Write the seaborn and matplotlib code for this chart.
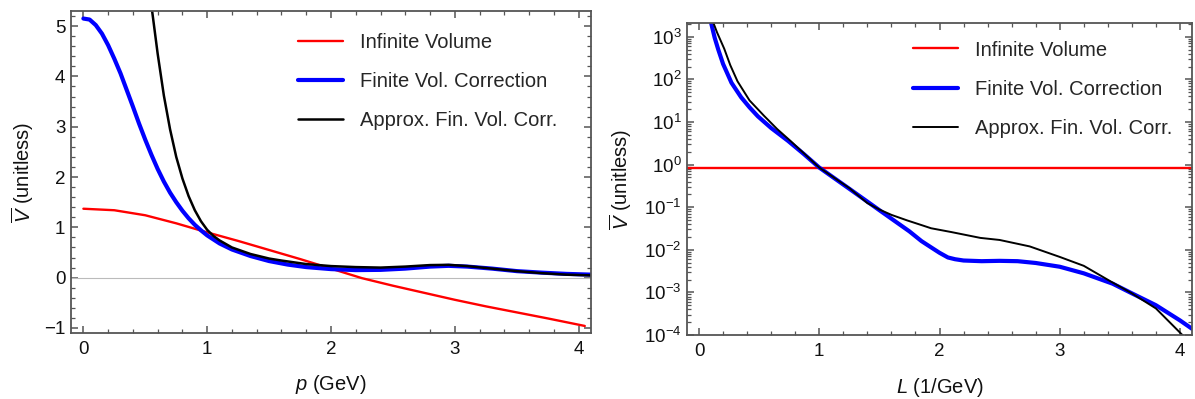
import numpy as np
import pandas as pd
import matplotlib
matplotlib.use("Agg")
import matplotlib.pyplot as plt
from matplotlib.ticker import MultipleLocator, LogLocator, NullFormatter
import seaborn as sns

# ---------------- data ----------------
# Left panel: V vs p (GeV)
p_inf = [0.00, 0.25, 0.50, 0.75, 1.00, 1.25, 1.50, 1.75, 2.00, 2.25, 2.50, 2.75,
         3.00, 3.25, 3.50, 3.75, 4.05]
v_inf = [1.37, 1.34, 1.24, 1.08, 0.90, 0.73, 0.55, 0.37, 0.18, -0.01, -0.16, -0.30,
         -0.44, -0.57, -0.69, -0.81, -0.96]

p_fin = [0.00, 0.05, 0.10, 0.15, 0.20, 0.25, 0.30, 0.35, 0.40, 0.45, 0.50, 0.55,
         0.60, 0.65, 0.70, 0.75, 0.80, 0.85, 0.90, 0.95, 1.00, 1.10, 1.20, 1.35,
         1.50, 1.65, 1.80, 2.00, 2.20, 2.40, 2.60, 2.80, 2.95, 3.10, 3.30, 3.50,
         3.70, 3.90, 4.10]
v_fin = [5.15, 5.13, 5.02, 4.85, 4.62, 4.35, 4.06, 3.73, 3.40, 3.06, 2.74, 2.44,
         2.16, 1.91, 1.69, 1.50, 1.33, 1.18, 1.05, 0.94, 0.84, 0.68, 0.56, 0.43,
         0.33, 0.26, 0.21, 0.17, 0.15, 0.155, 0.18, 0.22, 0.235, 0.22, 0.18, 0.13,
         0.10, 0.075, 0.06]

p_apx = [0.50, 0.55, 0.60, 0.65, 0.70, 0.75, 0.80, 0.85, 0.90, 0.95, 1.00, 1.05,
         1.10, 1.20, 1.35, 1.50, 1.60, 1.80, 2.00, 2.20, 2.40, 2.60, 2.80, 2.95,
         3.10, 3.30, 3.50, 3.70, 3.90, 4.10]
v_apx = [6.50, 5.40, 4.45, 3.62, 2.95, 2.40, 1.97, 1.62, 1.34, 1.12, 0.95, 0.83,
         0.74, 0.60, 0.47, 0.38, 0.34, 0.27, 0.23, 0.21, 0.20, 0.22, 0.25, 0.255,
         0.23, 0.18, 0.13, 0.09, 0.06, 0.045]

# Right panel: V vs L (1/GeV), log scale
L_inf = [-0.1, 4.1]
w_inf = [0.85, 0.85]

L_fin = [0.08, 0.10, 0.13, 0.16, 0.20, 0.27, 0.35, 0.42, 0.49, 0.60, 0.74, 0.87,
         1.00, 1.25, 1.50, 1.75, 1.85, 1.93, 2.00, 2.07, 2.13, 2.20, 2.35, 2.50,
         2.65, 2.80, 3.00, 3.20, 3.44, 3.60, 3.80, 4.00, 4.10]
w_fin = [4500, 2140, 950, 500, 230, 83, 38, 22, 13.5, 7.2, 3.6, 1.78,
         0.85, 0.27, 0.085, 0.027, 0.016, 0.0114, 0.0085, 0.0066, 0.0060, 0.0056,
         0.0054, 0.0055, 0.0054, 0.0049, 0.0040, 0.0028, 0.0016, 0.00095, 0.0005,
         0.00022, 0.00014]

L_apx = [0.10, 0.12, 0.15, 0.21, 0.26, 0.32, 0.42, 0.54, 0.65, 0.76, 0.88, 1.00,
         1.25, 1.40, 1.50, 1.60, 1.73, 1.85, 1.93, 2.10, 2.34, 2.50, 2.75, 3.00,
         3.20, 3.44, 3.60, 3.80, 4.02, 4.10]
w_apx = [4000, 2100, 1260, 520, 215, 90, 32, 14.0, 6.8, 3.6, 1.75, 0.85,
         0.28, 0.125, 0.088, 0.066, 0.049, 0.038, 0.032, 0.026, 0.019, 0.017,
         0.012, 0.0068, 0.0042, 0.0017, 0.00095, 0.00042, 0.0001, 0.00007]

labels = ["Infinite Volume", "Finite Vol. Correction", "Approx. Fin. Vol. Corr."]

# ---------------- style ----------------
sns.set_theme(style="ticks")
plt.rcParams["font.family"] = ["Liberation Sans", "DejaVu Sans"]
plt.rcParams["mathtext.fontset"] = "custom"
plt.rcParams["mathtext.rm"] = "Liberation Sans"
plt.rcParams["mathtext.it"] = "Liberation Sans:italic"
plt.rcParams["mathtext.bf"] = "Liberation Sans:bold"

FRAME = "#555555"
TXT = "#111111"
TICK_FS = 13.5
LAB_FS = 14.5
LEG_FS = 14.5

fig = plt.figure(figsize=(11.95, 3.99), dpi=100)
axL = fig.add_axes([71 / 1195, 1 - 333 / 399, 520 / 1195, 322 / 399])
axR = fig.add_axes([687 / 1195, 1 - 335 / 399, 505 / 1195, 312 / 399])


def frame(ax):
    for s in ax.spines.values():
        s.set_color(FRAME)
        s.set_linewidth(1.3)
    ax.tick_params(which="both", direction="in", top=True, right=True,
                   color=FRAME, labelcolor=TXT, labelsize=TICK_FS)
    ax.tick_params(which="major", length=5, width=1.1)
    ax.tick_params(which="minor", length=2.8, width=0.9)
    ax.tick_params(axis="x", which="major", pad=6)
    ax.tick_params(axis="y", which="major", pad=4)


leg_kw = dict(loc="upper left", frameon=False, fontsize=LEG_FS, handlelength=2.24,
              handletextpad=0.85, labelspacing=1.0, borderpad=0, borderaxespad=0)

# ---------------- left panel ----------------
dL = pd.DataFrame({"x": [-0.1, 4.1], "y": [0, 0]})
sns.lineplot(data=dL, x="x", y="y", ax=axL, color="#bbbbbb", lw=0.8, legend=False)
sns.lineplot(x=p_inf, y=v_inf, ax=axL, color="#ff0000", lw=1.7, label=labels[0])
sns.lineplot(x=p_fin, y=v_fin, ax=axL, color="#0000ff", lw=3.0, label=labels[1])
sns.lineplot(x=p_apx, y=v_apx, ax=axL, color="black", lw=1.8, label=labels[2])
axL.set_xlim(-0.1, 4.1)
axL.set_ylim(-1.1, 5.3)
axL.xaxis.set_major_locator(MultipleLocator(1))
axL.xaxis.set_minor_locator(MultipleLocator(0.2))
axL.yaxis.set_major_locator(MultipleLocator(1))
axL.yaxis.set_minor_locator(MultipleLocator(0.2))
frame(axL)
axL.set_xlabel(r"$p$ (GeV)", fontsize=LAB_FS, color=TXT)
axL.set_ylabel(r"$\overline{V}$ (unitless)", fontsize=LAB_FS, color=TXT)
axL.xaxis.set_label_coords(0.5, -0.125)
axL.yaxis.set_label_coords(-0.094, 0.5)
axL.yaxis.label.set_va("center")
axL.legend(bbox_to_anchor=((298 - 71) / 520, 1 - (33 - 11) / 322), **leg_kw)

# ---------------- right panel ----------------
sns.lineplot(x=L_inf, y=w_inf, ax=axR, color="#ff0000", lw=1.7, label=labels[0])
sns.lineplot(x=L_fin, y=w_fin, ax=axR, color="#0000ff", lw=3.0, label=labels[1])
sns.lineplot(x=L_apx, y=w_apx, ax=axR, color="black", lw=1.4, label=labels[2])
axR.set_yscale("log")
axR.set_xlim(-0.1, 4.1)
axR.set_ylim(1e-4, 2100)
axR.xaxis.set_major_locator(MultipleLocator(1))
axR.xaxis.set_minor_locator(MultipleLocator(0.2))
axR.yaxis.set_major_locator(LogLocator(base=10, numticks=20))
axR.yaxis.set_minor_locator(LogLocator(base=10, subs=np.arange(2, 10), numticks=20))
axR.yaxis.set_minor_formatter(NullFormatter())
frame(axR)
axR.set_xlabel(r"$L$ (1/GeV)", fontsize=LAB_FS, color=TXT)
axR.set_ylabel(r"$\overline{V}$ (unitless)", fontsize=LAB_FS, color=TXT)
axR.xaxis.set_label_coords(0.5, -0.13)
axR.yaxis.set_label_coords(-0.131, 0.5)
axR.yaxis.label.set_va("center")
axR.legend(bbox_to_anchor=((913 - 687) / 505, 1 - (40.5 - 23) / 312), **leg_kw)

fig.savefig("out.png", dpi=100)
